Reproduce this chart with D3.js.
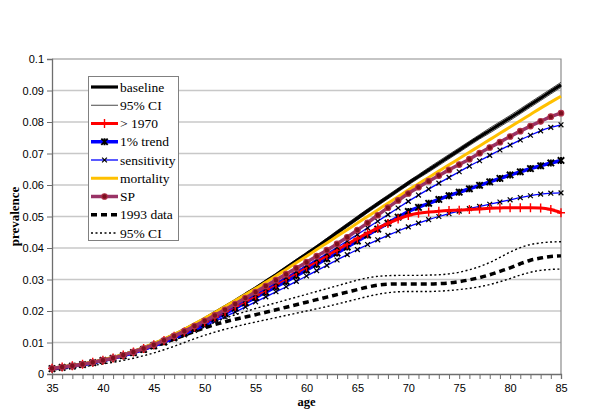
<!DOCTYPE html>
<html>
<head>
<meta charset="utf-8">
<script src="https://cdn.jsdelivr.net/npm/d3@7"></script>
<style>
  html, body { margin: 0; padding: 0; background: #fff; }
  svg { display: block; }
</style>
</head>
<body>
<svg id="chart" width="600" height="416"></svg>
<script>
// ---------- data ----------
const ages = d3.range(35, 86); // 35..85
const baseline = [.0018,.0022,.0026,.0031,.0037,.0044,.0052,.0061,.0071,.0083,.0096,.0110,.0125,.0141,.0158,.0176,.0195,.0214,.0233,.0253,.0273,.0294,.0315,.0337,.0359,.0381,.0403,.0426,.0449,.0472,.0495,.0518,.0540,.0562,.0584,.0606,.0627,.0648,.0669,.0690,.0711,.0732,.0753,.0773,.0793,.0813,.0834,.0855,.0876,.0897,.0918];
const baselineCIHigh = [.0019,.0023,.0027,.0032,.0038,.0045,.0053,.0063,.0073,.0085,.0098,.0112,.0127,.0144,.0161,.0179,.0198,.0217,.0236,.0257,.0277,.0298,.0319,.0342,.0364,.0386,.0408,.0431,.0455,.0478,.0501,.0524,.0546,.0568,.0590,.0612,.0633,.0655,.0676,.0697,.0718,.0739,.0760,.0781,.0801,.0821,.0842,.0863,.0884,.0905,.0926];
const baselineCILow = [.0017,.0021,.0025,.0030,.0036,.0043,.0051,.0059,.0069,.0081,.0094,.0108,.0123,.0138,.0155,.0173,.0192,.0211,.0230,.0249,.0269,.0290,.0311,.0332,.0354,.0376,.0398,.0421,.0443,.0466,.0489,.0512,.0534,.0556,.0578,.0600,.0621,.0641,.0662,.0683,.0704,.0725,.0746,.0765,.0785,.0805,.0826,.0847,.0868,.0889,.0910];
const after1970 = [.0018,.0022,.0026,.0031,.0037,.0044,.0051,.0060,.0070,.0081,.0093,.0106,.0120,.0134,.0149,.0165,.0181,.0198,.0215,.0232,.0250,.0268,.0286,.0304,.0322,.0340,.0358,.0376,.0394,.0412,.0430,.0447,.0463,.0478,.0492,.0503,.0510,.0514,.0517,.0519,.0520,.0522,.0524,.0526,.0527,.0528,.0528,.0528,.0527,.0522,.0512];
const trend1 = [.0017,.0021,.0025,.0030,.0036,.0043,.0050,.0058,.0068,.0078,.0090,.0102,.0116,.0130,.0145,.0160,.0176,.0192,.0209,.0226,.0243,.0260,.0277,.0294,.0312,.0330,.0348,.0366,.0384,.0403,.0422,.0441,.0460,.0479,.0498,.0516,.0529,.0542,.0554,.0566,.0577,.0588,.0599,.0610,.0621,.0632,.0642,.0652,.0661,.0670,.0678];
const sensHigh = [.0017,.0021,.0025,.0030,.0036,.0043,.0050,.0058,.0068,.0079,.0091,.0104,.0118,.0133,.0148,.0164,.0181,.0198,.0216,.0234,.0252,.0270,.0288,.0306,.0325,.0344,.0363,.0382,.0402,.0422,.0443,.0464,.0485,.0506,.0527,.0548,.0568,.0587,.0606,.0624,.0642,.0660,.0677,.0694,.0711,.0727,.0743,.0758,.0772,.0783,.0791];
const sensLow = [.0016,.0020,.0024,.0029,.0035,.0041,.0048,.0056,.0065,.0075,.0086,.0098,.0111,.0124,.0138,.0152,.0167,.0182,.0197,.0213,.0229,.0245,.0261,.0277,.0294,.0311,.0328,.0345,.0362,.0379,.0395,.0411,.0426,.0440,.0454,.0467,.0479,.0490,.0500,.0509,.0517,.0525,.0532,.0539,.0546,.0553,.0560,.0566,.0571,.0574,.0575];
const mortality = [.0019,.0023,.0027,.0032,.0038,.0045,.0053,.0062,.0072,.0084,.0097,.0111,.0126,.0142,.0159,.0177,.0195,.0214,.0233,.0252,.0271,.0291,.0311,.0332,.0353,.0374,.0395,.0416,.0437,.0458,.0479,.0500,.0521,.0542,.0563,.0584,.0604,.0624,.0644,.0664,.0684,.0704,.0724,.0744,.0764,.0784,.0804,.0824,.0844,.0863,.0882];
const sp = [.0018,.0022,.0026,.0031,.0037,.0044,.0051,.0060,.0070,.0081,.0093,.0107,.0121,.0136,.0152,.0169,.0186,.0204,.0222,.0241,.0260,.0279,.0298,.0317,.0336,.0355,.0374,.0393,.0413,.0434,.0457,.0480,.0504,.0528,.0551,.0573,.0593,.0612,.0630,.0648,.0665,.0682,.0701,.0719,.0736,.0754,.0771,.0787,.0802,.0817,.0828];
const data1993 = [.0016,.0020,.0025,.0030,.0036,.0043,.0050,.0058,.0067,.0077,.0088,.0099,.0111,.0123,.0135,.0147,.0157,.0166,.0174,.0181,.0188,.0196,.0204,.0212,.0220,.0228,.0236,.0244,.0252,.0260,.0268,.0276,.0282,.0285,.0286,.0286,.0286,.0286,.0287,.0289,.0293,.0299,.0306,.0315,.0326,.0337,.0350,.0361,.0368,.0373,.0375];
const data1993CIHigh = [.0018,.0022,.0026,.0031,.0037,.0044,.0052,.0060,.0069,.0079,.0090,.0102,.0115,.0128,.0141,.0154,.0166,.0177,.0188,.0198,.0208,.0217,.0226,.0235,.0244,.0253,.0262,.0271,.0280,.0289,.0298,.0305,.0310,.0312,.0313,.0313,.0313,.0314,.0315,.0318,.0323,.0331,.0341,.0354,.0370,.0387,.0401,.0411,.0416,.0419,.0420];
const data1993CILow = [.0013,.0016,.0019,.0023,.0027,.0032,.0037,.0043,.0050,.0058,.0067,.0077,.0088,.0100,.0112,.0123,.0133,.0142,.0150,.0158,.0165,.0172,.0179,.0186,.0193,.0200,.0207,.0214,.0222,.0230,.0238,.0246,.0253,.0258,.0261,.0262,.0262,.0262,.0263,.0265,.0268,.0272,.0277,.0284,.0293,.0303,.0314,.0323,.0329,.0332,.0333];

const yTickValues = [0, 0.01, 0.02, 0.03, 0.04, 0.05, 0.06, 0.07, 0.08, 0.09, 0.1];
const yTickLabels = ["0", "0.01", "0.02", "0.03", "0.04", "0.05", "0.06", "0.07", "0.08", "0.09", "0.1"];
const xTickLabels = [35, 40, 45, 50, 55, 60, 65, 70, 75, 80, 85];
const legendLabels = ["baseline", "95% CI", "> 1970", "1% trend", "sensitivity", "mortality", "SP", "1993 data", "95% CI"];

// ---------- styles ----------
const styles = {
  baseline:   { stroke: "#000000", width: 3.2 },
  ci:         { stroke: "#4a4a4a", width: 1 },
  after1970:  { stroke: "#ff0000", width: 3, marker: "plus", mstroke: "#ff0000" },
  trend1:     { stroke: "#0000ff", width: 3.5, marker: "xbig", mstroke: "#000000" },
  sens:       { stroke: "#0000ff", width: 1.3, marker: "xsmall", mstroke: "#000000" },
  mortality:  { stroke: "#ffc000", width: 3 },
  sp:         { stroke: "#993366", width: 3.5, marker: "circle" },
  d1993:      { stroke: "#000000", width: 3.5, dash: "6,4" },
  ci1993:     { stroke: "#000000", width: 1.4, dash: "2,2.5" }
};

// ---------- layout ----------
const svg = d3.select("#chart");
const x = d3.scaleLinear().domain([35, 85]).range([52, 561]);
const y = d3.scaleLinear().domain([0, 0.1]).range([374, 59]);

// gridlines
svg.append("g").selectAll("line").data(yTickValues.slice(1, -1)).join("line")
  .attr("x1", x(35)).attr("x2", x(85))
  .attr("y1", d => y(d)).attr("y2", d => y(d))
  .attr("stroke", "#c8c8c8").attr("stroke-width", 1.5);

// frame top/right
svg.append("path")
  .attr("d", `M${x(35)},${y(0.1)}H${x(85)}V${y(0)}`)
  .attr("fill", "none").attr("stroke", "#8c8c8c").attr("stroke-width", 1.2);

// axes
const yAxis = d3.axisLeft(y).tickValues(yTickValues)
  .tickFormat((d, i) => yTickLabels[i]).tickSize(5).tickPadding(3);
const gy = svg.append("g").attr("transform", `translate(${x(35)},0)`).call(yAxis);
gy.select(".domain").attr("stroke", "#6e6e6e").attr("stroke-width", 1.3);
gy.selectAll(".tick line").attr("stroke", "#6e6e6e");
gy.selectAll("text").attr("font-family", "Liberation Sans, Arial, sans-serif").attr("font-size", 11).attr("fill", "#000");

const xAxis = d3.axisBottom(x).ticks(50).tickFormat(d => xTickLabels.includes(d) ? d : "").tickSize(5).tickPadding(5);
const gx = svg.append("g").attr("transform", `translate(0,${y(0)})`).call(xAxis);
gx.select(".domain").attr("stroke", "#6e6e6e").attr("stroke-width", 1.3);
gx.selectAll(".tick line").attr("stroke", "#6e6e6e");
gx.selectAll("text").attr("font-family", "Liberation Sans, Arial, sans-serif").attr("font-size", 11).attr("fill", "#000");

// axis titles
svg.append("text").text("age")
  .attr("x", (x(35) + x(85)) / 2).attr("y", 406)
  .attr("text-anchor", "middle")
  .attr("font-family", "Liberation Serif, Times New Roman, serif")
  .attr("font-weight", "bold").attr("font-size", 12.5);
svg.append("text").text("prevalence")
  .attr("transform", `translate(19,${(y(0) + y(0.1)) / 2}) rotate(-90)`)
  .attr("text-anchor", "middle")
  .attr("font-family", "Liberation Serif, Times New Roman, serif")
  .attr("font-weight", "bold").attr("font-size", 13);

// ---------- series ----------
const line = d3.line().x((d, i) => x(ages[i])).y(d => y(d)).curve(d3.curveMonotoneX);
const plot = svg.append("g");

function markerPath(type) {
  if (type === "plus") return "M0,-4.5V4.5M-4,0H4";
  if (type === "xbig") return "M-3.2,-3.2L3.2,3.2M-3.2,3.2L3.2,-3.2M0,-3.5V3.5";
  if (type === "xsmall") return "M-2.4,-2.4L2.4,2.4M-2.4,2.4L2.4,-2.4";
  return null;
}

function drawMarkers(g, type, cx, cy, mstroke) {
  if (type === "circle") {
    g.append("circle").attr("cx", cx).attr("cy", cy).attr("r", 2.8)
      .attr("fill", "#7a0f1f").attr("stroke", "#b2304a").attr("stroke-width", 1.1);
  } else {
    g.append("path").attr("transform", `translate(${cx},${cy})`)
      .attr("d", markerPath(type)).attr("fill", "none")
      .attr("stroke", mstroke).attr("stroke-width", type === "xbig" ? 1.9 : (type === "plus" ? 1.4 : 1.2));
  }
}

function drawSeries(values, st) {
  const g = plot.append("g");
  g.append("path").datum(values).attr("d", line)
    .attr("fill", "none").attr("stroke", st.stroke).attr("stroke-width", st.width)
    .attr("stroke-dasharray", st.dash || null).attr("stroke-linejoin", "round");
  if (st.marker) {
    values.forEach((v, i) => drawMarkers(g, st.marker, x(ages[i]), y(v), st.mstroke));
  }
}

drawSeries(baselineCIHigh, styles.ci);
drawSeries(baselineCILow, styles.ci);
drawSeries(baseline, styles.baseline);
drawSeries(data1993CIHigh, styles.ci1993);
drawSeries(data1993CILow, styles.ci1993);
drawSeries(data1993, styles.d1993);
drawSeries(sensLow, styles.sens);
drawSeries(trend1, styles.trend1);
drawSeries(after1970, styles.after1970);
drawSeries(sensHigh, styles.sens);
drawSeries(mortality, styles.mortality);
drawSeries(sp, styles.sp);

// ---------- legend ----------
const legendStyles = [styles.baseline, styles.ci, styles.after1970, styles.trend1, styles.sens, styles.mortality, styles.sp, styles.d1993, styles.ci1993];
const lg = svg.append("g");
lg.append("rect").attr("x", 88.5).attr("y", 76.5).attr("width", 90).attr("height", 164)
  .attr("fill", "#fff").attr("stroke", "#808080").attr("stroke-width", 1);
legendLabels.forEach((lab, i) => {
  const ly = 87 + i * 18.25;
  const st = legendStyles[i];
  lg.append("line").attr("x1", 91).attr("x2", 118).attr("y1", ly).attr("y2", ly)
    .attr("stroke", st.stroke).attr("stroke-width", st.width)
    .attr("stroke-dasharray", st.dash || null);
  if (st.marker) drawMarkers(lg, st.marker, 104.5, ly, st.mstroke);
  lg.append("text").text(lab).attr("x", 120).attr("y", ly + 4.5)
    .attr("font-family", "Liberation Serif, Times New Roman, serif").attr("font-size", 13.5);
});
</script>
</body>
</html>
